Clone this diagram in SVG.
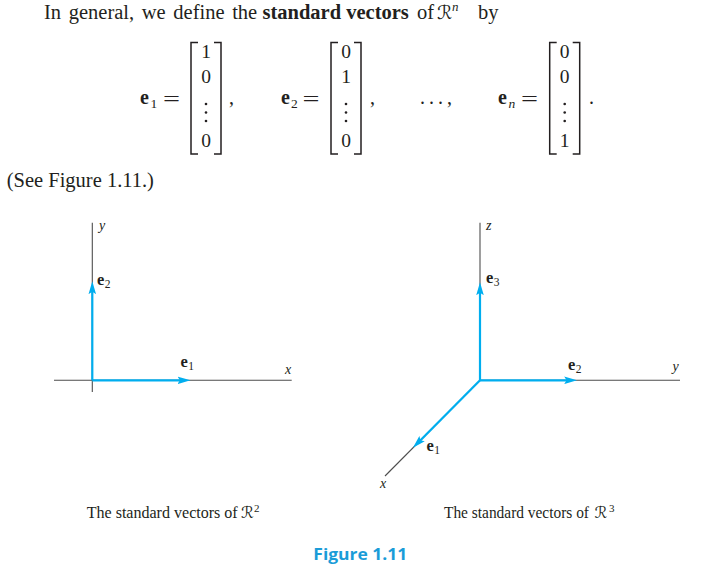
<svg xmlns="http://www.w3.org/2000/svg" xmlns:xlink="http://www.w3.org/1999/xlink" width="726" height="572" viewBox="0 0 726 572">
<style>
.t{font-family:"Liberation Serif","Times New Roman",serif;fill:#231f20}
.b{font-weight:bold}
.i{font-style:italic}
.cal{font-family:"DejaVu Serif","DejaVu Sans",serif;fill:#231f20;font-style:italic}
.ax{stroke:#4d4d4d;stroke-width:1.1;fill:none}
.vec{stroke:#00aeef;stroke-width:2.2;fill:none;marker-end:url(#arr)}
.br{stroke:#231f20;stroke-width:1.5;fill:none}
.dot{fill:#231f20}
</style>
<defs>
<marker id="arr" markerUnits="userSpaceOnUse" markerWidth="13" markerHeight="8" viewBox="0 0 12 7" refX="6" refY="3.5" orient="auto">
<path d="M0,0 L12,3.5 L0,7 L2.2,3.5 Z" fill="#00aeef"/>
</marker>
<path id="lb" class="br" d="M7,0 H0 V111.5 H7"/>
<path id="rb" class="br" d="M-7,0 H0 V111.5 H-7"/>
<g id="vd"><circle cx="0" cy="0" r="1.3" class="dot"/><circle cx="0" cy="8.5" r="1.3" class="dot"/><circle cx="0" cy="17" r="1.3" class="dot"/></g>
</defs>
<rect width="726" height="572" fill="#ffffff"/>

<g id="intro">
<text class="t" font-size="20.5" y="18.5"><tspan x="44" word-spacing="2.5">In general, we define the</tspan><tspan x="262.5" class="b">standard vectors</tspan><tspan x="417">of</tspan></text>
<text class="cal" font-size="19" x="437" y="18.5">ℛ</text>
<text class="t i" font-size="13" x="452" y="11">n</text>
<text class="t" font-size="20.5" x="478" y="18.5">by</text>
</g>

<g id="vec-e1">
<text class="t b" font-size="20" x="140" y="104">e</text>
<text class="t" font-size="13.5" x="150.5" y="107.5">1</text>
<text class="t" font-size="20" x="163" y="106" textLength="17" lengthAdjust="spacingAndGlyphs">=</text>
<use xlink:href="#lb" x="191" y="42.5"/>
<use xlink:href="#rb" x="221" y="42.5"/>
<text class="t" font-size="19.5" text-anchor="middle" x="206" y="58">1</text>
<text class="t" font-size="19.5" text-anchor="middle" x="206" y="83.3">0</text>
<use xlink:href="#vd" x="206" y="104"/>
<text class="t" font-size="19.5" text-anchor="middle" x="206" y="147.3">0</text>
<text class="t" font-size="20" x="229" y="104">,</text>
</g>

<g id="vec-e2">
<text class="t b" font-size="20" x="281" y="104">e</text>
<text class="t" font-size="13.5" x="291" y="107.5">2</text>
<text class="t" font-size="20" x="302.5" y="106" textLength="17" lengthAdjust="spacingAndGlyphs">=</text>
<use xlink:href="#lb" x="331" y="42.5"/>
<use xlink:href="#rb" x="361" y="42.5"/>
<text class="t" font-size="19.5" text-anchor="middle" x="346" y="58">0</text>
<text class="t" font-size="19.5" text-anchor="middle" x="346" y="83.3">1</text>
<use xlink:href="#vd" x="346" y="104"/>
<text class="t" font-size="19.5" text-anchor="middle" x="346" y="147.3">0</text>
<text class="t" font-size="20" x="370" y="104">,</text>
</g>

<g id="dots">
<text class="t" font-size="20" x="420" y="104" textLength="32" lengthAdjust="spacing">. . . ,</text>
</g>

<g id="vec-en">
<text class="t b" font-size="20" x="498" y="104">e</text>
<text class="t i" font-size="13.5" x="508.5" y="107.5">n</text>
<text class="t" font-size="20" x="521" y="106" textLength="17" lengthAdjust="spacingAndGlyphs">=</text>
<use xlink:href="#lb" x="549.7" y="42.5"/>
<use xlink:href="#rb" x="579.7" y="42.5"/>
<text class="t" font-size="19.5" text-anchor="middle" x="564.7" y="58">0</text>
<text class="t" font-size="19.5" text-anchor="middle" x="564.7" y="83.3">0</text>
<use xlink:href="#vd" x="564.7" y="104"/>
<text class="t" font-size="19.5" text-anchor="middle" x="564.7" y="147.3">1</text>
<text class="t" font-size="20" x="589" y="104">.</text>
</g>

<g id="see">
<text class="t" font-size="20.5" x="6.7" y="186.7">(See Figure 1.11.)</text>
</g>

<g id="axes-2d">
<line class="ax" x1="92.3" y1="222.7" x2="92.3" y2="392"/>
<line class="ax" x1="54" y1="380.3" x2="291.7" y2="380.3"/>
</g>
<g id="axes-3d">
<line class="ax" x1="480" y1="222.7" x2="480" y2="380.3"/>
<line class="ax" x1="480" y1="380.3" x2="680" y2="380.3"/>
<line class="ax" x1="480" y1="380.3" x2="385" y2="476"/>
</g>
<g id="connectors">
<line class="vec" x1="92.3" y1="380.3" x2="184" y2="380.3"/>
<line class="vec" x1="92.3" y1="380.3" x2="92.3" y2="287.7"/>
<line class="vec" x1="480" y1="380.3" x2="480" y2="288.7"/>
<line class="vec" x1="480" y1="380.3" x2="570.7" y2="380.3"/>
<line class="vec" x1="480" y1="380.3" x2="417.5" y2="443.2"/>
</g>
<g id="labels-2d">
<text class="t i" font-size="14" x="99" y="230">y</text>
<text class="t b" font-size="16.5" x="97" y="285">e</text>
<text class="t" font-size="11.5" x="104.8" y="287.5">2</text>
<text class="t b" font-size="16.5" x="180.5" y="367">e</text>
<text class="t" font-size="11.5" x="188.3" y="369.5">1</text>
<text class="t i" font-size="14" x="285" y="374">x</text>
</g>
<g id="labels-3d">
<text class="t i" font-size="14" x="486" y="230">z</text>
<text class="t b" font-size="16.5" x="486" y="283">e</text>
<text class="t" font-size="11.5" x="493.8" y="285.5">3</text>
<text class="t b" font-size="16.5" x="568" y="370">e</text>
<text class="t" font-size="11.5" x="575.8" y="372.5">2</text>
<text class="t i" font-size="14" x="672.5" y="371">y</text>
<text class="t b" font-size="16.5" x="426.5" y="451">e</text>
<text class="t" font-size="11.5" x="434.3" y="453.5">1</text>
<text class="t i" font-size="14" x="380" y="488">x</text>
</g>

<g id="caption-2d">
<text class="t" font-size="16" x="86.7" y="518" textLength="151" lengthAdjust="spacingAndGlyphs">The standard vectors of</text>
<text class="cal" font-size="16" x="241" y="518">ℛ</text>
<text class="t" font-size="11" x="254" y="511.5">2</text>
</g>
<g id="caption-3d">
<text class="t" font-size="16" x="444" y="518" textLength="145" lengthAdjust="spacingAndGlyphs">The standard vectors of</text>
<text class="cal" font-size="16" x="594.5" y="518">ℛ</text>
<text class="t" font-size="11" x="609" y="511.5">3</text>
</g>
<g id="figure-title">
<text font-family="'Open Sans','Noto Sans',sans-serif" font-weight="bold" font-size="16.5" fill="#1a9cd8" x="313.3" y="560" textLength="94" lengthAdjust="spacingAndGlyphs">Figure 1.11</text>
</g>
</svg>
